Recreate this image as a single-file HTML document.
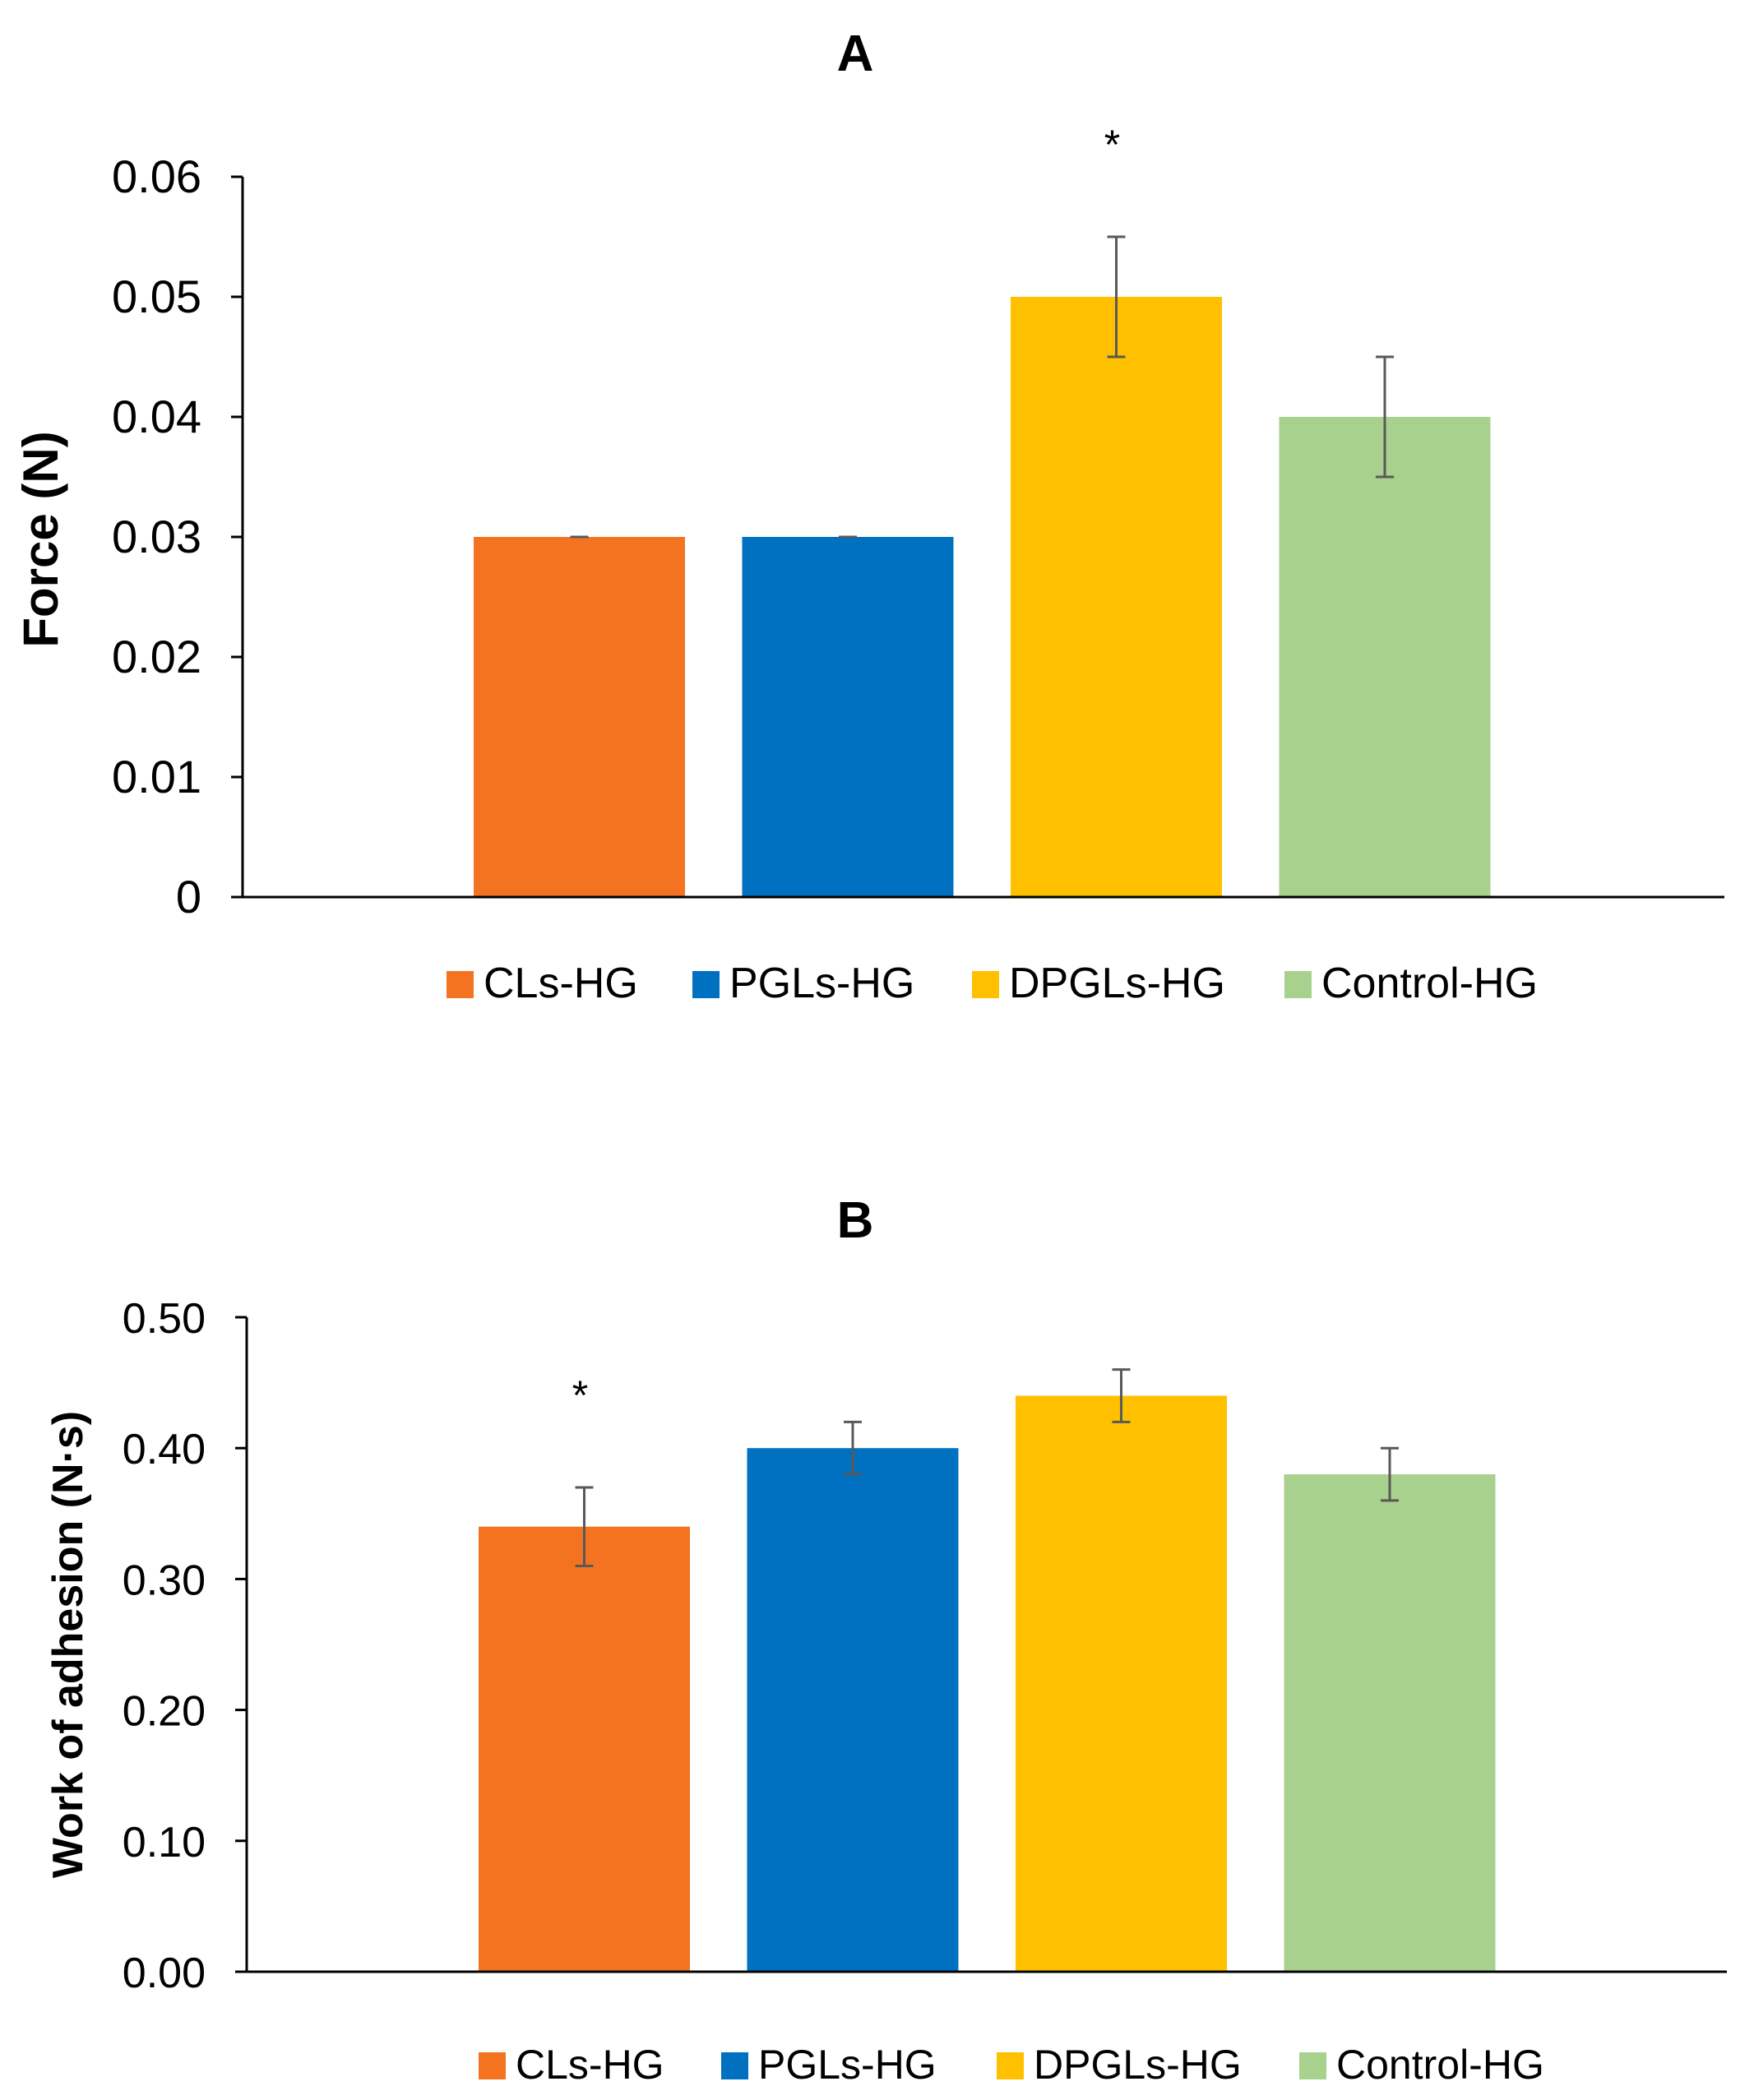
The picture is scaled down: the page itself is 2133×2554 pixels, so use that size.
<!DOCTYPE html>
<html><head><meta charset="utf-8"><style>
html,body{margin:0;padding:0;background:#fff;}
svg{display:block;font-family:"Liberation Sans",sans-serif;}
</style></head><body>
<svg id="svg" width="2133" height="2554" viewBox="0 0 2133 2554"></svg>
<script>
const categories = ["CLs-HG","PGLs-HG","DPGLs-HG","Control-HG"];
const colors = ["#F37321","#0070C0","#FFC000","#A9D18E"];
const forceValues = [0.03,0.03,0.05,0.04];
const forceErrors = [0,0,0.005,0.005];
const forceTicks = ["0","0.01","0.02","0.03","0.04","0.05","0.06"];
const forceStars = [false,false,true,false];
const workValues = [0.34,0.40,0.44,0.38];
const workErrors = [0.03,0.02,0.02,0.02];
const workTicks = ["0.00","0.10","0.20","0.30","0.40","0.50"];
const workStars = [true,false,false,false];

const NS="http://www.w3.org/2000/svg";
const svg=document.getElementById('svg');
function mk(tag,attrs,parent,text){const e=document.createElementNS(NS,tag);for(const k in attrs)e.setAttribute(k,attrs[k]);if(text!==undefined)e.textContent=text;(parent||svg).appendChild(e);return e;}

function chart(cfg){
  const g=mk('g',{});
  
  
  const yMax=parseFloat(cfg.ticks[cfg.ticks.length-1]);
  const y=v=>cfg.y0-(v/yMax)*(cfg.y0-cfg.yTop);
  const x=i=>cfg.bar0+i*cfg.step;
  const t=mk('text',{x:cfg.titleX,y:cfg.titleY,'font-size':62,'font-weight':'bold','text-anchor':'middle'},g,cfg.title);
  
  
  cfg.values.forEach((v,i)=>{
    const r=mk('rect',{x:x(i),y:y(v),width:cfg.bw,height:cfg.y0-y(v),fill:colors[i]},g);
    
    
    const cx=x(i)+cfg.bw/2, e=cfg.errors[i];
    const eb=mk('g',{stroke:'#595959','stroke-width':3},g);
    
    
    mk('line',{x1:cx,x2:cx,y1:y(v+e),y2:y(v-e)},eb);
    mk('line',{x1:cx-11,x2:cx+11,y1:y(v+e),y2:y(v+e)},eb);
    mk('line',{x1:cx-11,x2:cx+11,y1:y(v-e),y2:y(v-e)},eb);
    if(cfg.stars[i]){
      const s=mk('text',{x:cx-5,y:y(v+e)-(cfg.starGap),'font-size':50,'text-anchor':'middle'},g,'*');
      
      
    }
  });
  const ax=mk('g',{stroke:'#000','stroke-width':3},g);
  
  
  mk('line',{x1:cfg.ax,x2:cfg.ax,y1:cfg.yTop,y2:cfg.y0},ax);
  mk('line',{x1:cfg.ax-14,x2:cfg.xEnd,y1:cfg.y0,y2:cfg.y0},ax);
  cfg.ticks.forEach(tk=>{
    const yy=y(parseFloat(tk));
    mk('line',{x1:cfg.ax-14,x2:cfg.ax,y1:yy,y2:yy},ax);
    const l=mk('text',{x:cfg.ax-50,y:yy+19,'font-size':cfg.tickSize,'text-anchor':'end'},g,tk);
    
    
  });
  const yl=mk('text',{transform:`translate(${cfg.ylX},${cfg.ylY}) rotate(-90)`,'font-size':cfg.ylSize,'font-weight':'bold','text-anchor':'middle'},g,cfg.ylabel);
  
  
  categories.forEach((c,i)=>{
    const lg=mk('g',{},g);
    
    
    mk('rect',{x:cfg.legX[i],y:cfg.legY-32,width:33,height:33,fill:colors[i]},lg);
    mk('text',{x:cfg.legX[i]+45,y:cfg.legY,'font-size':cfg.legSize},lg,c);
  });
}
chart({name:'chart-a-force',title:'A',titleX:1040,titleY:86,values:forceValues,errors:forceErrors,ticks:forceTicks,stars:forceStars,
  ax:295,yTop:215,y0:1091,xEnd:2097,bar0:576,step:326.5,bw:257,starGap:95,tickSize:56,
  ylabel:'Force (N)',ylX:70,ylY:656,ylSize:60,legX:[543,842,1182,1562],legY:1213,legSize:52});
chart({name:'chart-b-work-of-adhesion',title:'B',titleX:1040,titleY:1505,values:workValues,errors:workErrors,ticks:workTicks,stars:workStars,
  ax:300,yTop:1602,y0:2398,xEnd:2100,bar0:582,step:326.5,bw:257,starGap:95,tickSize:52,
  ylabel:'Work of adhesion (N·s)',ylX:100,ylY:2000,ylSize:52,legX:[582,877,1212,1580],legY:2528,legSize:50});
</script>
</body></html>
